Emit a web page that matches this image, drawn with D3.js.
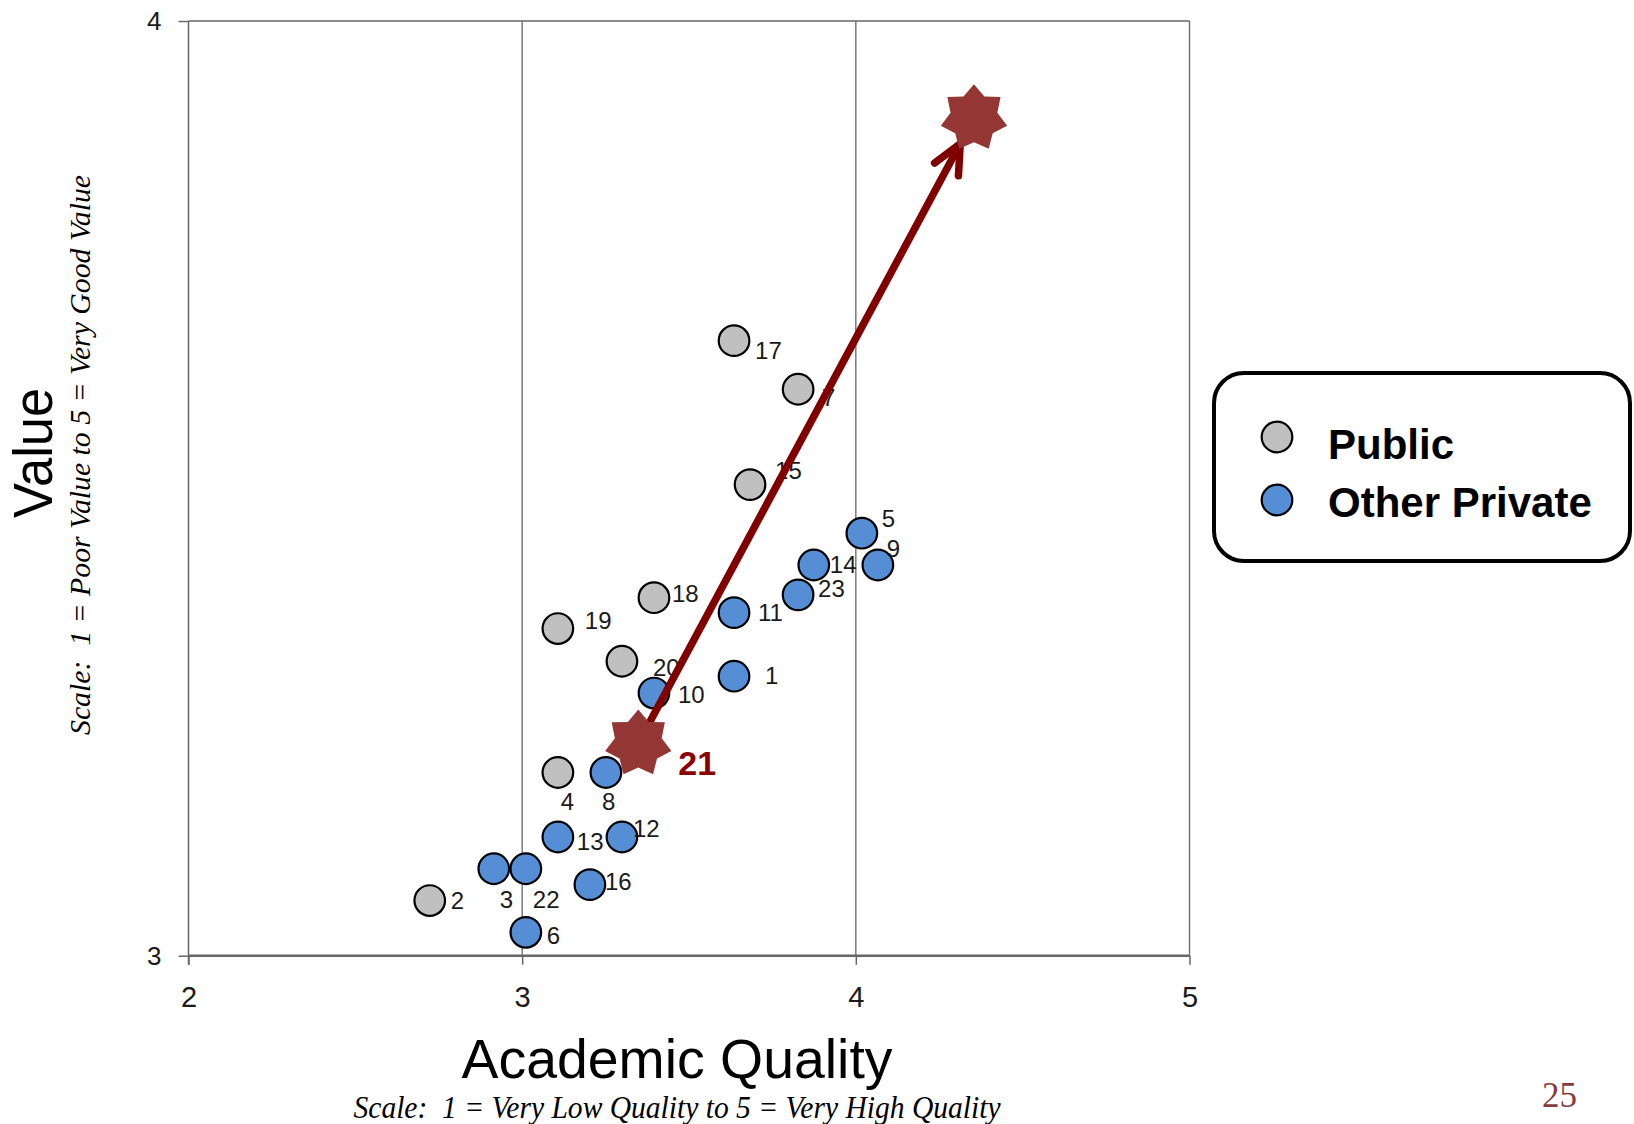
<!DOCTYPE html>
<html>
<head>
<meta charset="utf-8">
<script src="https://cdn.jsdelivr.net/npm/d3@7"></script>
<style>
  html, body { margin: 0; padding: 0; background: #ffffff; }
  svg { display: block; }
</style>
</head>
<body>
<script>
// Institutions: id, academic quality (x), value (y), sector
const ids      = [17, 7, 15, 18, 19, 20, 4, 2, 5, 9, 14, 23, 11, 1, 10, 8, 13, 12, 3, 22, 16, 6];
const quality  = [3.635, 3.827, 3.683, 3.395, 3.107, 3.299, 3.107, 2.723, 4.018, 4.066, 3.874, 3.827, 3.635, 3.635, 3.395, 3.251, 3.107, 3.299, 2.915, 3.011, 3.203, 3.011];
const valueScore = [3.658, 3.606, 3.504, 3.383, 3.350, 3.315, 3.196, 3.059, 3.452, 3.418, 3.418, 3.386, 3.367, 3.299, 3.281, 3.196, 3.127, 3.127, 3.093, 3.093, 3.076, 3.025];
const sector   = ["Public", "Public", "Public", "Public", "Public", "Public", "Public", "Public",
                  "Other Private", "Other Private", "Other Private", "Other Private", "Other Private", "Other Private",
                  "Other Private", "Other Private", "Other Private", "Other Private", "Other Private", "Other Private",
                  "Other Private", "Other Private"];

// Institution 21: current position and goal position
const focusId = 21;
const focusNow  = [3.348, 3.227];
const focusGoal = [4.354, 3.896];

// Axes
const xTicks = [2, 3, 4, 5];
const yTicks = [3, 4];
const legendItems = ["Public", "Other Private"];

// Label placement around each marker (text start, baseline), in pixels
const labelPlacement = {
  17: [21, 18], 7: [24, 17], 15: [25, -6], 5: [20, -6], 9: [9, -8], 14: [16, 8],
  23: [20, 2], 18: [18, 4], 11: [24, 8], 19: [27, 0], 20: [31, 15], 10: [24, 10],
  1: [31, 8], 4: [3, 38], 8: [-4, 38], 13: [19, 13], 12: [11, 0], 3: [6, 39],
  22: [7, 39], 16: [15, 5], 2: [21, 8], 6: [21, 12]
};

const colors = { "Public": "#c0c0c0", "Other Private": "#558ed5" };

const W = 1634, H = 1124;
const svg = d3.select("body").append("svg").attr("width", W).attr("height", H);
svg.append("rect").attr("width", W).attr("height", H).attr("fill", "#fff");

const x = d3.scaleLinear().domain([2, 5]).range([188.5, 1189.5]);
const y = d3.scaleLinear().domain([3, 4]).range([955.7, 21]);

const sans = "'Liberation Sans', Arial, sans-serif";
const serif = "'Liberation Serif', 'Times New Roman', serif";

// Vertical gridlines and frame
const grid = svg.append("g");
grid.selectAll("line.v").data([3, 4]).join("line")
  .attr("x1", d => x(d)).attr("x2", d => x(d))
  .attr("y1", y(4)).attr("y2", y(3))
  .attr("stroke", "#666").attr("stroke-width", 1.3);
grid.append("line").attr("x1", x(2)).attr("x2", x(5)).attr("y1", y(4)).attr("y2", y(4))
  .attr("stroke", "#666").attr("stroke-width", 1.5);
grid.append("line").attr("x1", x(5)).attr("x2", x(5)).attr("y1", y(4)).attr("y2", y(3))
  .attr("stroke", "#666").attr("stroke-width", 1.3);

// Axes
const xAxis = svg.append("g").attr("transform", `translate(0,${y(3)})`)
  .call(d3.axisBottom(x).tickValues(xTicks).tickFormat(d3.format("d")).tickSize(9).tickPadding(22));
xAxis.select(".domain").attr("stroke", "#666").attr("stroke-width", 2.4);
xAxis.selectAll(".tick line").attr("stroke", "#666").attr("stroke-width", 1.5);
xAxis.selectAll(".tick text").attr("font-family", sans).attr("font-size", 29).attr("fill", "#1a1a1a");

const yAxis = svg.append("g").attr("transform", `translate(${x(2)},0)`)
  .call(d3.axisLeft(y).tickValues(yTicks).tickFormat(d3.format("d")).tickSize(10).tickPadding(17));
yAxis.select(".domain").attr("stroke", "#666").attr("stroke-width", 1.5);
yAxis.selectAll(".tick line").attr("stroke", "#666").attr("stroke-width", 1.5);
yAxis.selectAll(".tick text").attr("font-family", sans).attr("font-size", 26).attr("fill", "#1a1a1a");
xAxis.selectAll(".domain").attr("d", `M${x(2)},0H${x(5)}`);
yAxis.selectAll(".domain").attr("d", `M0,${y(4)}V${y(3) + 9}`);

// Points
const points = ids.map((id, i) => ({ id, q: quality[i], v: valueScore[i], s: sector[i] }));
svg.append("g").selectAll("circle").data(points).join("circle")
  .attr("cx", d => x(d.q)).attr("cy", d => y(d.v)).attr("r", 15.3)
  .attr("fill", d => colors[d.s]).attr("stroke", "#000").attr("stroke-width", 2.2);

svg.append("g").selectAll("text").data(points).join("text")
  .attr("x", d => x(d.q) + labelPlacement[d.id][0])
  .attr("y", d => y(d.v) + labelPlacement[d.id][1])
  .attr("font-family", sans).attr("font-size", 24).attr("fill", "#1a1a1a")
  .text(d => d.id);

// Arrow from current position to goal
const p0 = [x(focusNow[0]), y(focusNow[1])];
const p1 = [x(focusGoal[0]), y(focusGoal[1])];
const len = Math.hypot(p1[0] - p0[0], p1[1] - p0[1]);
const ux = (p1[0] - p0[0]) / len, uy = (p1[1] - p0[1]) / len;
const tip = [p1[0] - ux * 29, p1[1] - uy * 29];
const back = Math.atan2(-uy, -ux);
const headLen = 32, headAng = 25 * Math.PI / 180;
const arm = a => [tip[0] + headLen * Math.cos(back + a), tip[1] + headLen * Math.sin(back + a)];
const arrow = svg.append("g").attr("fill", "none").attr("stroke", "#800000")
  .attr("stroke-width", 7.5).attr("stroke-linecap", "round").attr("stroke-linejoin", "round");
arrow.append("path").attr("d", d3.line()([p0, tip]));
arrow.append("path").attr("d", d3.line()([arm(headAng), tip, arm(-headAng)]));

// Seven-pointed stars
function starPath(R, r, n) {
  const pts = d3.range(n * 2).map(i => [i * Math.PI / n, i % 2 === 0 ? R : r]);
  return d3.lineRadial().curve(d3.curveLinearClosed)(pts);
}
const star = starPath(34, 24, 7);
svg.append("g").selectAll("path").data([focusNow, focusGoal]).join("path")
  .attr("d", star)
  .attr("transform", d => `translate(${x(d[0])},${y(d[1])})`)
  .attr("fill", "#943634");

svg.append("text")
  .attr("x", x(focusNow[0]) + 40).attr("y", y(focusNow[1]) + 31)
  .attr("font-family", sans).attr("font-size", 34).attr("font-weight", "bold")
  .attr("fill", "#8b0000").text(focusId);

// Axis titles
svg.append("text").attr("x", 677).attr("y", 1078).attr("text-anchor", "middle")
  .attr("font-family", sans).attr("font-size", 55)
  .attr("textLength", 431).attr("lengthAdjust", "spacingAndGlyphs")
  .text("Academic Quality");
svg.append("text").attr("x", 677).attr("y", 1118).attr("text-anchor", "middle")
  .attr("font-family", serif).attr("font-style", "italic").attr("font-size", 31)
  .attr("textLength", 647).attr("lengthAdjust", "spacingAndGlyphs")
  .text("Scale:\u00a0 1 = Very Low Quality to 5 = Very High Quality");

svg.append("text").attr("transform", "translate(52,453) rotate(-90)").attr("text-anchor", "middle")
  .attr("font-family", sans).attr("font-size", 55)
  .attr("textLength", 130).attr("lengthAdjust", "spacingAndGlyphs")
  .text("Value");
svg.append("text").attr("transform", "translate(90,455) rotate(-90)").attr("text-anchor", "middle")
  .attr("font-family", serif).attr("font-style", "italic").attr("font-size", 29)
  .attr("textLength", 560).attr("lengthAdjust", "spacingAndGlyphs")
  .text("Scale:\u00a0 1 = Poor Value to 5 = Very Good Value");

// Legend
const legend = svg.append("g");
legend.append("rect").attr("x", 1214).attr("y", 373).attr("width", 416).attr("height", 188)
  .attr("rx", 30).attr("ry", 30).attr("fill", "#fff").attr("stroke", "#000").attr("stroke-width", 4);
const li = legend.selectAll("g.item").data(legendItems).join("g")
  .attr("transform", (d, i) => `translate(1277,${437 + i * 63})`);
li.append("circle").attr("r", 15.3).attr("fill", d => colors[d]).attr("stroke", "#000").attr("stroke-width", 2.2);
li.append("text").attr("x", 51).attr("y", (d, i) => i === 0 ? 22 : 17)
  .attr("font-family", sans).attr("font-weight", "bold")
  .attr("font-size", 42).attr("fill", "#000").text(d => d);

// Page number
svg.append("text").attr("x", 1577).attr("y", 1107).attr("text-anchor", "end")
  .attr("font-family", serif).attr("font-size", 35).attr("fill", "#843c3c").text("25");
</script>
</body>
</html>
